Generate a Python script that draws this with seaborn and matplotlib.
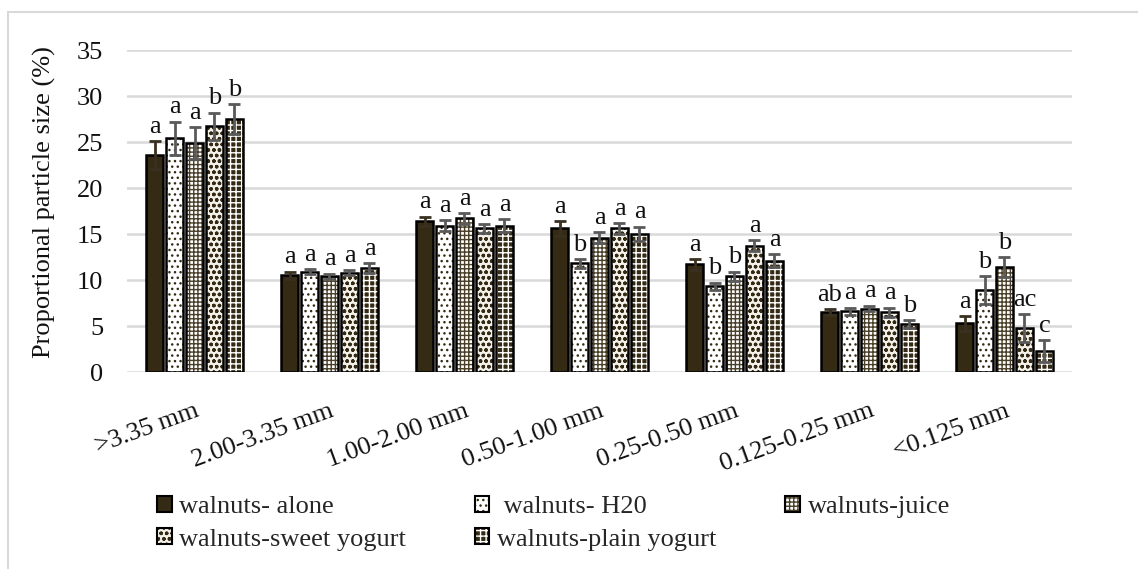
import numpy as np
import pandas as pd
import matplotlib
matplotlib.use("Agg")
import matplotlib.pyplot as plt
from matplotlib.patches import Rectangle, Patch
from matplotlib.legend_handler import HandlerTuple
import seaborn as sns

# particle size classes
sizes = [">3.35 mm", "2.00-3.35 mm", "1.00-2.00 mm", "0.50-1.00 mm",
         "0.25-0.50 mm", "0.125-0.25 mm", "<0.125 mm"]

treatments = ["walnuts- alone", " walnuts- H20", "walnuts-juice",
              "walnuts-sweet yogurt", "walnuts-plain yogurt"]

# mean proportional particle size (%)
alone = [23.6, 10.5, 16.4, 15.6, 11.7, 6.5, 5.3]
h2o = [25.4, 10.9, 15.9, 11.8, 9.3, 6.6, 8.9]
juice = [24.9, 10.4, 16.7, 14.6, 10.4, 6.9, 11.4]
sweet_yogurt = [26.7, 10.8, 15.6, 15.6, 13.7, 6.5, 4.8]
plain_yogurt = [27.5, 11.3, 15.9, 15.0, 12.1, 5.2, 2.3]

# standard deviations
alone_sd = [1.5, 0.4, 0.5, 0.8, 0.6, 0.3, 0.8]
h2o_sd = [1.8, 0.3, 0.6, 0.5, 0.4, 0.4, 1.5]
juice_sd = [1.7, 0.3, 0.6, 0.6, 0.5, 0.3, 1.1]
sweet_yogurt_sd = [1.5, 0.3, 0.5, 0.6, 0.6, 0.5, 1.5]
plain_yogurt_sd = [1.6, 0.5, 0.7, 0.8, 0.7, 0.4, 1.2]

# significance letters
alone_sig = ["a", "a", "a", "a", "a", "ab", "a"]
h2o_sig = ["a", "a", "a", "b", "b", "a", "b"]
juice_sig = ["a", "a", "a", "a", "b", "a", "b"]
sweet_yogurt_sig = ["b", "a", "a", "a", "a", "a", "ac"]
plain_yogurt_sig = ["b", "a", "a", "a", "a", "b", "c"]

means = [alone, h2o, juice, sweet_yogurt, plain_yogurt]
sds = [alone_sd, h2o_sd, juice_sd, sweet_yogurt_sd, plain_yogurt_sd]
sigs = [alone_sig, h2o_sig, juice_sig, sweet_yogurt_sig, plain_yogurt_sig]

df = pd.DataFrame({
    "size": np.tile(sizes, len(treatments)),
    "treatment": np.repeat(treatments, len(sizes)),
    "value": np.concatenate(means),
})

sns.set_theme(style="white")
plt.rcParams["font.family"] = ["Liberation Serif", "DejaVu Serif"]
plt.rcParams["hatch.linewidth"] = 1.0

DARK = "#352b15"
# (face colour, hatch, hatch colour)
styles = [
    (DARK, None, DARK),
    ("white", "...", DARK),
    ("white", "++++", "#4a3f28"),
    ("#f4f1ea", "ooo", DARK),
    (DARK, "+++", "white"),
]
err_colors = ["#3a3020", "#5a5a5a", "#5a5a5a", "#5a5a5a", "#5a5a5a"]

fig = plt.figure(figsize=(11.38, 5.69), dpi=100)
ax = fig.add_axes([0.1116, 0.3462, 0.8304, 0.5659])

sns.barplot(data=df, x="size", y="value", hue="treatment",
            order=sizes, hue_order=treatments, errorbar=None,
            width=0.74, gap=0.12, legend=False, ax=ax)

FS = 19
bar_groups = list(ax.containers)
for i, cont in enumerate(bar_groups):
    face, hatch, hcol = styles[i]
    for j, bar in enumerate(cont.patches):
        bar.set_facecolor(face)
        bar.set_hatch(hatch)
        bar.set_edgecolor(hcol)
        bar.set_linewidth(0)
        bar.set_zorder(3)
        x0, y0 = bar.get_xy()
        w, h = bar.get_width(), bar.get_height()
        ax.add_patch(Rectangle((x0, y0), w, h, fill=False,
                               edgecolor="black", linewidth=1.8, zorder=4))
        cx = x0 + w / 2
        ax.errorbar(cx, means[i][j], yerr=sds[i][j], fmt="none",
                    ecolor=err_colors[i], elinewidth=2, capsize=4.5,
                    capthick=2, zorder=5)
        ax.text(cx, means[i][j] + sds[i][j] + 0.9, sigs[i][j],
                ha="center", va="baseline", fontsize=FS, color="#111111",
                zorder=6)

ax.set_ylim(0, 35)
ax.set_xlim(-0.5, 6.5)
ax.set_yticks(range(0, 36, 5))
ax.yaxis.grid(True, color="#d9d9d9", linewidth=1.8)
ax.set_axisbelow(True)
for s in ax.spines.values():
    s.set_visible(False)
ax.tick_params(axis="both", length=0, labelsize=FS, colors="#111111")
ax.tick_params(axis="y", pad=17)
ax.tick_params(axis="x", pad=20)
plt.setp(ax.get_xticklabels(), rotation=20, ha="right",
         rotation_mode="anchor")
ax.set_xlabel("")
ax.set_ylabel("Proportional particle size (%)", fontsize=FS, color="#111111")
ax.yaxis.set_label_coords(-0.075, 0.528)

# legend with pattern swatches and black outlines
handles = []
for i in range(len(treatments)):
    face, hatch, hcol = styles[i]
    fill = Patch(facecolor=face, hatch=hatch, edgecolor=hcol, linewidth=0)
    edge = Patch(facecolor="none", edgecolor="black", linewidth=1.5)
    handles.append((fill, edge))
order = [0, 3, 1, 4, 2]
fig.legend([handles[k] for k in order], [treatments[k] for k in order],
           handler_map={tuple: HandlerTuple(ndivide=1)},
           loc="upper left", bbox_to_anchor=(0.138, 0.128),
           bbox_transform=fig.transFigure, ncol=3, frameon=False,
           fontsize=FS, handlelength=0.55, handleheight=0.55,
           handletextpad=0.3, columnspacing=2.6, labelspacing=0.38,
           borderaxespad=0, borderpad=0)

# light frame around the figure
fig.patches.append(Rectangle((8 / 1138, -0.1), 1.2, 1.1 - 12 / 569,
                             transform=fig.transFigure, fill=False,
                             edgecolor="#d9d9d9", linewidth=1.5))

fig.savefig("out.png", dpi=100)
